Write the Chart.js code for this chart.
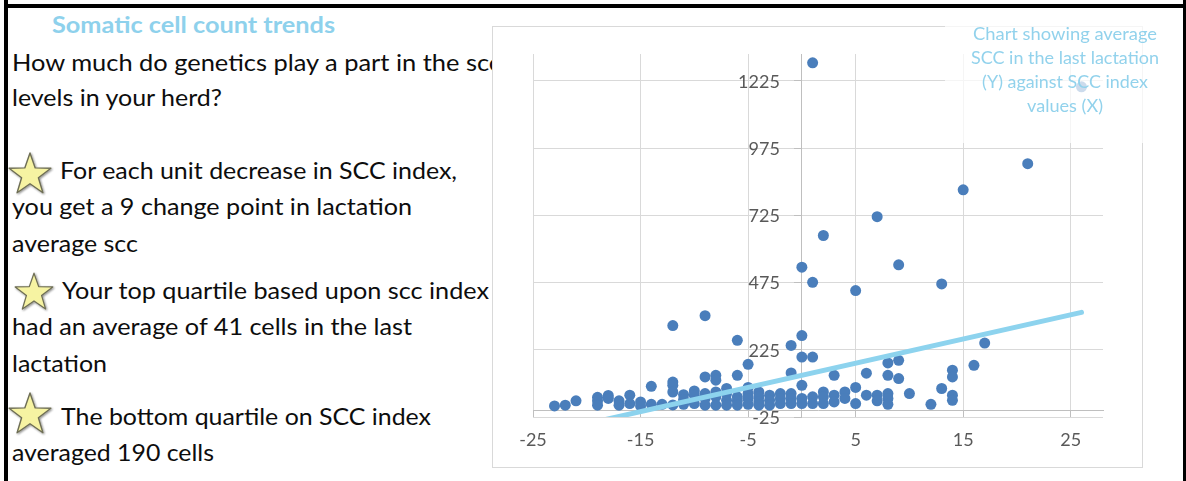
<!DOCTYPE html>
<html>
<head>
<meta charset="utf-8">
<title>Somatic cell count trends</title>
<script src="https://cdn.jsdelivr.net/npm/chart.js@4.4.1/dist/chart.umd.min.js"></script>
<style>
  html, body { margin: 0; padding: 0; background: #fff; }
  #page { position: relative; width: 1186px; height: 481px; overflow: hidden; background: #fff; }
  .rule { position: absolute; background: #000; }
  #notes { position: absolute; left: 0; top: 0; z-index: 1; }
  #chartBox { position: absolute; left: 492px; top: 26px; width: 649px; height: 440px;
              border: 1px solid #d9d9d9; background: #fff; z-index: 2; }
  #chartBox canvas { display: block; }
  #caption { position: absolute; left: 0; top: 0; z-index: 3; pointer-events: none; }
  text { font-family: Lato, "Open Sans", sans-serif; }
</style>
</head>
<body>
<div id="page">
  <div class="rule" style="left:4px;top:0;width:4px;height:481px"></div>
  <div class="rule" style="left:4px;top:4px;width:1182px;height:4px"></div>
  <div class="rule" style="left:1183px;top:0;width:3px;height:481px"></div>

  <svg id="notes" width="1186" height="481" xmlns="http://www.w3.org/2000/svg">
    <defs>
      <polygon id="star" points="0,-22 5.2,-7.1 20.9,-6.8 8.4,2.7 12.9,17.8 0,8.8 -12.9,17.8 -8.4,2.7 -20.9,-6.8 -5.2,-7.1"/>
      <filter id="soft" x="-20%" y="-20%" width="140%" height="140%">
        <feGaussianBlur in="SourceAlpha" stdDeviation="0.8"/>
        <feOffset dx="0.6" dy="0.8" result="s"/>
        <feComponentTransfer><feFuncA type="linear" slope="0.45"/></feComponentTransfer>
        <feMerge><feMergeNode/><feMergeNode in="SourceGraphic"/></feMerge>
      </filter>
    </defs>
    <text x="52" y="33" font-size="23.5" font-weight="700" fill="#8ED1EC" textLength="283" lengthAdjust="spacingAndGlyphs">Somatic cell count trends</text>
    <g fill="#0d0d0d" font-size="23.5">
      <text x="12" y="71" textLength="489" lengthAdjust="spacingAndGlyphs">How much do genetics play a part in the scc</text>
      <text x="12" y="106" textLength="210" lengthAdjust="spacingAndGlyphs">levels in your herd?</text>
      <text x="60" y="179" textLength="397" lengthAdjust="spacingAndGlyphs">For each unit decrease in SCC index,</text>
      <text x="12" y="215" textLength="400" lengthAdjust="spacingAndGlyphs">you get a 9 change point in lactation</text>
      <text x="12" y="252" textLength="126" lengthAdjust="spacingAndGlyphs">average scc</text>
      <text x="62" y="299" textLength="427" lengthAdjust="spacingAndGlyphs">Your top quartile based upon scc index</text>
      <text x="12" y="335" textLength="400" lengthAdjust="spacingAndGlyphs">had an average of 41 cells in the last</text>
      <text x="12" y="372" textLength="95" lengthAdjust="spacingAndGlyphs">lactation</text>
      <text x="61" y="425" textLength="370" lengthAdjust="spacingAndGlyphs">The bottom quartile on SCC index</text>
      <text x="12" y="461" textLength="202" lengthAdjust="spacingAndGlyphs">averaged 190 cells</text>
    </g>
    <g fill="#f6f3a2" stroke="#6e6e55" stroke-width="1.4" stroke-linejoin="round" filter="url(#soft)">
      <use href="#star" transform="translate(30,175)"/>
      <use href="#star" transform="translate(34,293) scale(0.9)"/>
      <use href="#star" transform="translate(30,415)"/>
    </g>
  </svg>

  <div id="chartBox"><canvas id="scc" width="649" height="440"></canvas></div>

  <svg id="caption" width="1186" height="481" xmlns="http://www.w3.org/2000/svg">
    <rect x="945" y="14" width="234" height="129" fill="#fff" fill-opacity="0.72"/>
    <g fill="#92D2EC" font-size="17" text-anchor="middle">
      <text x="1065" y="40" textLength="184" lengthAdjust="spacingAndGlyphs">Chart showing average</text>
      <text x="1065" y="64" textLength="188" lengthAdjust="spacingAndGlyphs">SCC in the last lactation</text>
      <text x="1065" y="88" textLength="166" lengthAdjust="spacingAndGlyphs">(Y) against SCC index</text>
      <text x="1065" y="112" textLength="76" lengthAdjust="spacingAndGlyphs">values (X)</text>
    </g>
  </svg>
</div>

<script>
// SCC index of each cow (X)
const sccIndex = [
  -23, -22, -21,
  -19, -19, -19,
  -18, -18,
  -17, -17,
  -16, -16,
  -15, -15,
  -14, -14,
  -13,
  -12, -12, -12, -12, -12,
  -11, -11, -11,
  -10, -10, -10,
  -9, -9, -9, -9, -9,
  -8, -8, -8, -8, -8,
  -7, -7, -7, -7,
  -6, -6, -6, -6, -6,
  -5, -5, -5, -5, -5,
  -4, -4, -4, -4,
  -3, -3, -3,
  -2, -2, -2,
  -1, -1, -1, -1, -1,
  0, 0, 0, 0, 0, 0,
  1, 1, 1, 1, 1,
  2, 2, 2, 2,
  3, 3, 3,
  4, 4,
  5, 5, 5,
  6, 6,
  7, 7, 7,
  8, 8, 8, 8, 8,
  9, 9, 9,
  10,
  12,
  13, 13,
  14, 14, 14, 14,
  15, 16, 17, 21, 26
];

// Average SCC in the last lactation for the same cows (Y)
const lactationScc = [
  16, 19, 35,
  48, 35, 19,
  55, 44,
  35, 19,
  56, 25,
  31, 16,
  89, 22,
  22,
  315, 105, 93, 68, 20,
  58, 40, 22,
  72, 56, 25,
  352, 124, 62, 44, 19,
  130, 112, 68, 50, 19,
  81, 62, 37, 19,
  260, 130, 50, 35, 19,
  171, 85, 62, 44, 22,
  68, 50, 31, 19,
  56, 37, 19,
  62, 44, 25,
  241, 139, 62, 44, 25,
  532, 278, 198, 93, 44, 25,
  1292, 476, 198, 50, 25,
  650, 68, 50, 25,
  130, 56, 31,
  68, 44,
  445, 85, 25,
  138, 56,
  720, 56, 35,
  176, 130, 62, 44, 22,
  541, 186, 118,
  62,
  22,
  470, 81,
  149, 124, 56, 37,
  820, 167, 250, 917, 1203
];

// Linear trend line end points
const trendIndex = [-23, 26];
const trendScc = [-77, 364];

// Axis tick values
const xTickValues = [-25, -15, -5, 5, 15, 25];
const yTickValues = [-25, 225, 475, 725, 975, 1225];

const cows = sccIndex.map((x, i) => ({ x: x, y: lactationScc[i] }));
const trend = trendIndex.map((x, i) => ({ x: x, y: trendScc[i] }));

const labelFont = '18px Lato, "Open Sans", sans-serif';

// Value labels of the vertical axis, set to the left of the axis line at x = 0
const yAxisLabels = {
  id: 'yAxisLabels',
  afterDraw(chart) {
    const { ctx, scales } = chart;
    const right = scales.x.getPixelForValue(0) - 22;
    ctx.save();
    ctx.font = labelFont;
    ctx.fillStyle = '#595959';
    ctx.textAlign = 'right';
    ctx.textBaseline = 'middle';
    scales.y.ticks.forEach(t => {
      ctx.fillText(String(t.value), right, scales.y.getPixelForValue(t.value) + 1);
    });
    ctx.restore();
  }
};

new Chart(document.getElementById('scc'), {
  type: 'scatter',
  data: {
    datasets: [
      {
        type: 'line',
        label: 'Trend',
        data: trend,
        borderColor: '#8DD3EE',
        borderWidth: 5,
        borderCapStyle: 'round',
        pointRadius: 0,
        fill: false,
        clip: 0,
        order: 0
      },
      {
        label: 'Cows',
        data: cows,
        backgroundColor: '#4A7EBB',
        borderWidth: 0,
        pointRadius: 5.5,
        pointHoverRadius: 5.5,
        order: 1
      }
    ]
  },
  options: {
    responsive: false,
    animation: false,
    events: [],
    layout: { padding: { left: 40, top: 27, right: 39, bottom: 50 } },
    plugins: { legend: { display: false }, title: { display: false }, tooltip: { enabled: false } },
    scales: {
      x: {
        type: 'linear',
        min: -25,
        max: 28,
        position: { y: 0 },
        afterBuildTicks: s => { s.ticks = xTickValues.map(v => ({ value: v })); },
        grid: { color: '#d9d9d9', tickColor: '#bfbfbf', tickLength: 7, lineWidth: 1 },
        border: { color: '#bfbfbf', width: 1 },
        ticks: { color: '#595959', padding: 12, maxRotation: 0, font: { family: 'Lato, "Open Sans", sans-serif', size: 18 } }
      },
      y: {
        type: 'linear',
        min: -25,
        max: 1325,
        position: { x: 0 },
        afterBuildTicks: s => { s.ticks = yTickValues.map(v => ({ value: v })); },
        grid: { color: '#d9d9d9', tickColor: '#bfbfbf', tickLength: 7, lineWidth: 1 },
        border: { color: '#bfbfbf', width: 1 },
        ticks: { display: false }
      }
    }
  },
  plugins: [yAxisLabels]
});
</script>
</body>
</html>
